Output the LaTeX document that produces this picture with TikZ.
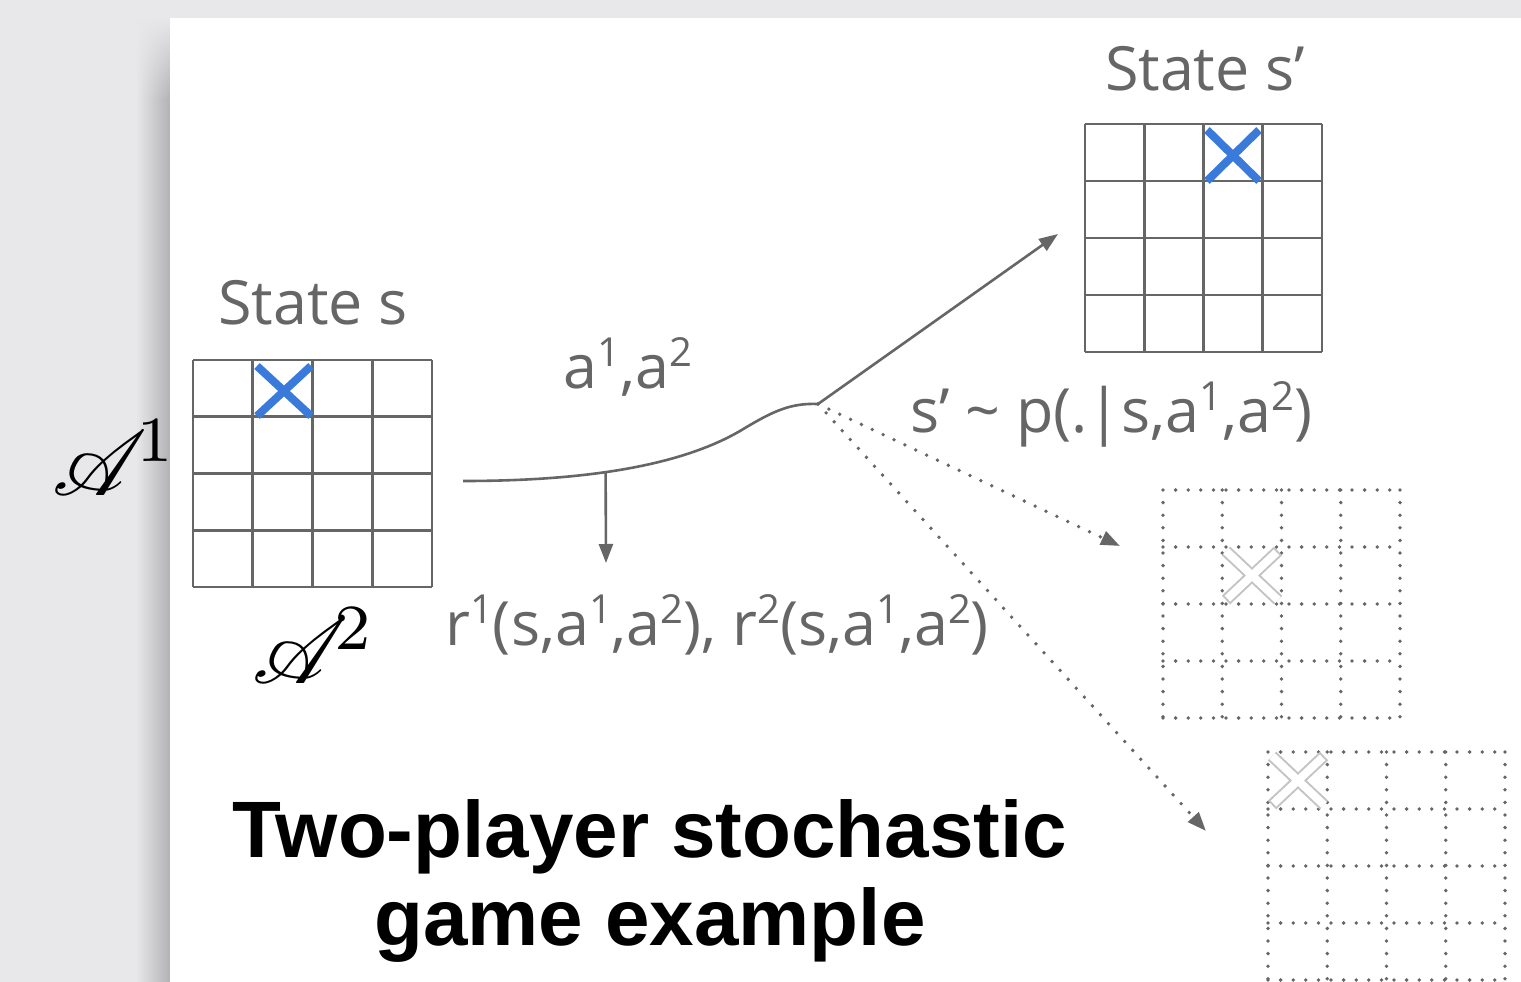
\documentclass[tikz,border=0pt]{standalone}
\usepackage{fontspec}
\usepackage{amsmath,mathrsfs}
\usetikzlibrary{arrows.meta,fadings}
\newfontfamily\slidefont{Open Sans}
\newfontfamily\headfont{Liberation Sans}
\newcommand{\supnum}[1]{\raisebox{0.36em}{\fontsize{40}{40}\selectfont #1}}
\definecolor{deskgray}{RGB}{232,232,235}
\definecolor{shadowgray}{RGB}{178,178,181}
\definecolor{inkgray}{RGB}{102,102,102}
\definecolor{markblue}{RGB}{58,122,218}
\definecolor{ghostgray}{RGB}{196,196,196}

\begin{document}
\begin{tikzpicture}[x=1pt, y=-1pt, >={Triangle[length=19pt,width=14pt]},
  lbl/.style={text=inkgray, font=\slidefont\fontsize{61}{66}\selectfont, inner sep=0pt},
  cell/.style={draw=inkgray, line width=2.8pt},
  dotcell/.style={draw=inkgray, line width=3.8pt, line cap=round, dash pattern=on 0pt off 12.6pt},
  wire/.style={draw=inkgray, line width=2.6pt},
  dotwire/.style={draw=inkgray, line width=3.8pt, line cap=round, dash pattern=on 0pt off 12pt},
  bluex/.style={draw=markblue, line width=8pt},
  ghostout/.style={draw=ghostgray, line width=12pt},
  ghostin/.style={draw=white, line width=8pt, shorten <=2pt, shorten >=2pt},
  headline/.style={font=\headfont\bfseries\fontsize{80}{88}\selectfont, inner sep=0pt}]
	\useasboundingbox (0,0) rectangle (1521,982);
	% desk and slide
	\fill[deskgray] (0,0) rectangle (1521,982);
	\shade[left color=deskgray, right color=shadowgray] (136,100) rectangle (170,982);
	\shade[left color=deskgray, right color=shadowgray, path fading=north] (136,18) rectangle (170,100.5);
	\fill[white] (170,18) rectangle (1521,982);

	% state s
	\node[lbl, anchor=base] (sname) at (313,324) {State s};
	\begin{scope}[shift={(193,360)}]
		\foreach \k in {0,...,4}
			\draw[cell] (\k*59.75,0) -- (\k*59.75,227) (0,\k*56.75) -- (239,\k*56.75);
		\draw[bluex] (64,6) -- (118,56) (118,6) -- (64,56);
	\end{scope}
	\node[anchor=base west, inner sep=0pt] (pone) at (52,495) {\scalebox{9.2}{$\mathscr{A}^{\mkern-2.5mu 1}$}};
	\node[anchor=base west, inner sep=0pt] (ptwo) at (252,683) {\scalebox{9.2}{$\mathscr{A}^{\mkern-3mu 2}$}};

	% joint action, reward and transition
	\coordinate (act) at (463,481);
	\coordinate (fork) at (818,404);
	\draw[wire] (act) .. controls (600,481) and (690,462) .. (745,428) coordinate[pos=0.4] (tap)
		.. controls (775,410) and (792,403) .. (fork);
	\node[lbl, anchor=base] (actlbl) at (628,388) {a\supnum{1},a\supnum{2}};
	\coordinate (rtip) at (606,563);
	\draw[wire,->] (tap) -- (rtip);
	\node[lbl, anchor=base west] (rew) at (445,645) {r\supnum{1}(s,a\supnum{1},a\supnum{2}), r\supnum{2}(s,a\supnum{1},a\supnum{2})};
	\coordinate (nxt) at (1058,234);
	\draw[wire,->] (fork) -- (nxt);
	\node[lbl, anchor=base west] (trans) at (910,432) {s’ \textasciitilde{} p(.|s,a\supnum{1},a\supnum{2})};
	\coordinate (alt1) at (1120,546);
	\coordinate (alt2) at (1206,831);
	\draw[dotwire,->] (fork) -- (alt1);
	\draw[dotwire,->] (fork) -- (alt2);

	% state s'
	\node[lbl, anchor=base] (spname) at (1205,91) {State s’};
	\begin{scope}[shift={(1085,124)}]
		\foreach \k in {0,...,4}
			\draw[cell] (\k*59.25,0) -- (\k*59.25,228) (0,\k*57) -- (237,\k*57);
		\draw[bluex] (122,6) -- (174,57) (174,6) -- (122,57);
	\end{scope}

	% other possible next states
	\begin{scope}[shift={(1163,490)}]
		\foreach \k in {0,...,4}
			\draw[dotcell] (\k*59.25,0) -- (\k*59.25,228) (0,\k*57) -- (237,\k*57);
		\draw[ghostout] (63,61) -- (115,110) (115,61) -- (63,110);
		\draw[ghostin] (63,61) -- (115,110) (115,61) -- (63,110);
	\end{scope}
	\begin{scope}[shift={(1268,752)}]
		\foreach \k in {0,...,4}
			\draw[dotcell] (\k*59.25,0) -- (\k*59.25,228) (0,\k*57) -- (237,\k*57);
		\draw[ghostout] (4,4) -- (56,53) (56,4) -- (4,53);
		\draw[ghostin] (4,4) -- (56,53) (56,4) -- (4,53);
	\end{scope}

	\node[headline, anchor=base] (heada) at (650,857) {Two-player stochastic};
	\node[headline, anchor=base] (headb) at (650,945) {game example};
\end{tikzpicture}
\end{document}
